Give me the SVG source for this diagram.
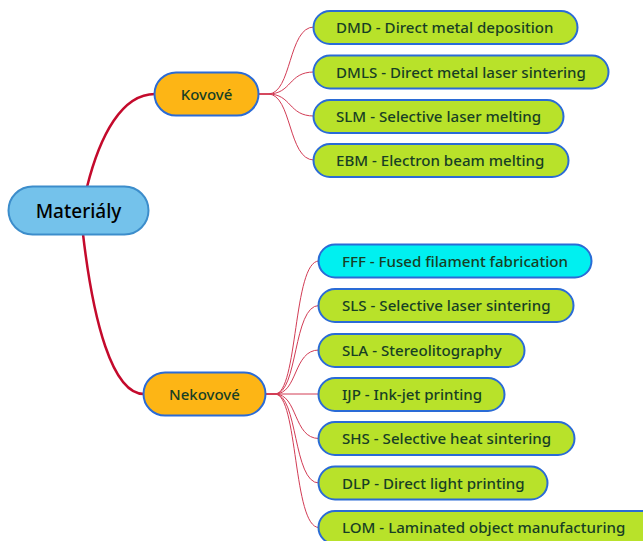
<svg xmlns="http://www.w3.org/2000/svg" width="643" height="541" viewBox="0 0 643 541">
<style>
.leaf rect{fill:#B8E22A;stroke:#2A6BD6;stroke-width:2}
.leaf text,.mid text{font-family:"Noto Sans","Open Sans",sans-serif;font-size:15.1px;font-weight:500;fill:#173F24}
.mid rect{fill:#FDB515;stroke:#2A6BD6;stroke-width:2}
.mid text{font-size:15px;text-anchor:middle}
.thick{fill:none;stroke:#C40A2C;stroke-width:2.5}
.thin{fill:none;stroke:#D23C55;stroke-width:1}
</style>
<rect width="643" height="541" fill="#fff"/>
<g id="connectors">
<path class="thick" d="M87,187 C100,135 122,94 155,94"/>
<path class="thick" d="M83,234 C93,320 112,394 144,394"/>
<path class="thin" d="M259,94 L268,94 C292,94 288,27 314,27"/>
<path class="thin" d="M259,94 L268,94 C292,94 288,72 314,72"/>
<path class="thin" d="M259,94 L268,94 C292,94 288,116 314,116"/>
<path class="thin" d="M259,94 L268,94 C292,94 288,160 314,160"/>
<path class="thin" d="M266,394 L275,394 C298,394 293,261 319,261"/>
<path class="thin" d="M266,394 L275,394 C298,394 293,305.5 319,305.5"/>
<path class="thin" d="M266,394 L275,394 C298,394 293,350 319,350"/>
<path class="thin" d="M266,394 L319,394"/>
<path class="thin" d="M266,394 L275,394 C298,394 293,438.5 319,438.5"/>
<path class="thin" d="M266,394 L275,394 C298,394 293,483 319,483"/>
<path class="thin" d="M266,394 L275,394 C298,394 293,527.5 319,527.5"/>
</g>
<g id="root">
<rect x="8.5" y="186.5" width="140" height="48" rx="24" fill="#74C2EB" stroke="#3C8DCB" stroke-width="2"/>
<text x="78.5" y="217.5" text-anchor="middle" font-family="Noto Sans, Open Sans, sans-serif" font-size="19" font-weight="500" fill="#000">Materiály</text>
</g>
<g id="kovove" class="mid">
<rect x="154.5" y="72.5" width="104" height="43" rx="21.5"/>
<text x="206.5" y="99.5">Kovové</text>
</g>
<g id="nekovove" class="mid">
<rect x="143.5" y="372.5" width="122" height="43" rx="21.5"/>
<text x="204.5" y="399.5">Nekovové</text>
</g>
<g id="dmd" class="leaf"><rect x="313.5" y="11" width="264" height="33" rx="16.5"/><text x="336" y="33">DMD - Direct metal deposition</text></g>
<g id="dmls" class="leaf"><rect x="313.5" y="55.5" width="295" height="33" rx="16.5"/><text x="336" y="77.5">DMLS - Direct metal laser sintering</text></g>
<g id="slm" class="leaf"><rect x="313.5" y="100" width="250" height="33" rx="16.5"/><text x="336" y="122">SLM - Selective laser melting</text></g>
<g id="ebm" class="leaf"><rect x="313.5" y="144" width="255" height="33" rx="16.5"/><text x="336" y="166">EBM - Electron beam melting</text></g>
<g id="fff" class="leaf"><rect x="318.5" y="244.5" width="273" height="33" rx="16.5" style="fill:#00F0F0"/><text x="342" y="266.5">FFF - Fused filament fabrication</text></g>
<g id="sls" class="leaf"><rect x="318.5" y="289" width="255" height="33" rx="16.5"/><text x="342" y="311">SLS - Selective laser sintering</text></g>
<g id="sla" class="leaf"><rect x="318.5" y="334" width="206" height="33" rx="16.5"/><text x="342" y="356">SLA - Stereolitography</text></g>
<g id="ijp" class="leaf"><rect x="318.5" y="378" width="186" height="33" rx="16.5"/><text x="342" y="400">IJP - Ink-jet printing</text></g>
<g id="shs" class="leaf"><rect x="318.5" y="422" width="256" height="33" rx="16.5"/><text x="342" y="444">SHS - Selective heat sintering</text></g>
<g id="dlp" class="leaf"><rect x="318.5" y="466.5" width="229" height="33" rx="16.5"/><text x="342" y="488.5">DLP - Direct light printing</text></g>
<g id="lom" class="leaf"><rect x="318.5" y="511" width="340" height="33" rx="16.5"/><text x="342" y="533">LOM - Laminated object manufacturing</text></g>
</svg>
